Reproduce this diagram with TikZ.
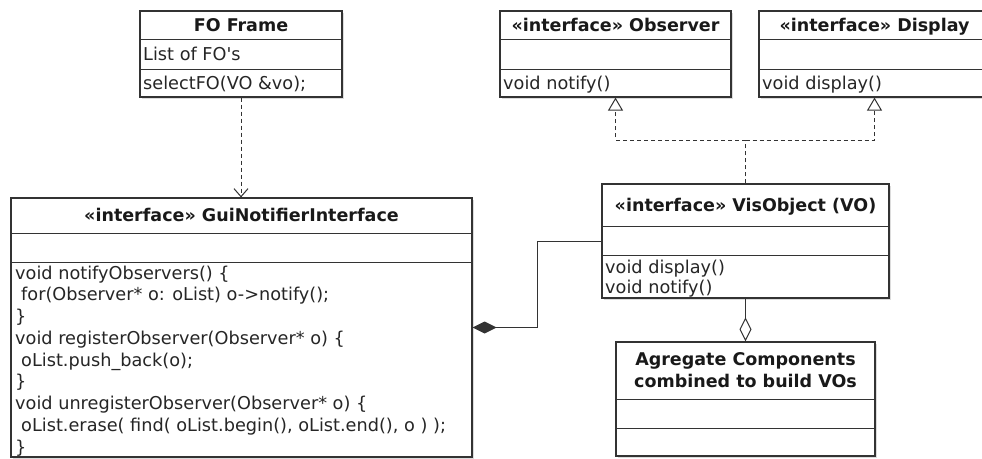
\documentclass[tikz,border=0pt]{standalone}
\usepackage{fontspec}
\setmainfont{DejaVu Sans}
\usetikzlibrary{arrows.meta,shadows}

\begin{document}
\begin{tikzpicture}[x=1pt, y=-1pt,
    umlbox/.style={draw=black!80, line width=1.2pt, fill=white, inner sep=0pt,
      drop shadow={shadow xshift=2pt, shadow yshift=-2pt, opacity=0.3, fill=black!45}},
    boxtitle/.style={inner sep=0pt, font=\fontsize{17.5}{22}\selectfont\bfseries, text=black!90, align=center},
    onetitle/.style={boxtitle, text height=13pt, text depth=0pt},
    member/.style={anchor=west, inner sep=0pt, text height=12pt, text depth=0pt,
      font=\fontsize{17.7}{20}\selectfont, text=black!85},
    sep/.style={draw=black!80, line width=1pt},
    realize/.style={draw=black!80, line width=1pt, dash pattern=on 4pt off 3pt,
      -{Triangle[open, length=13pt, width=15pt]}},
    depend/.style={draw=black!80, line width=1pt, dash pattern=on 4pt off 3pt,
      -{Straight Barb[length=8pt, width=14pt]}},
    compose/.style={draw=black!80, line width=1pt, -{Diamond[length=24pt, width=12pt]}},
    aggregate/.style={draw=black!80, line width=1pt, -{Diamond[open, length=24pt, width=12pt]}}]
  \clip (0,0) rectangle (982,458);
  \fill[white] (0,0) rectangle (982,458);

  % FO Frame
  \node[umlbox, minimum width=202pt, minimum height=86pt] (foframe) at (241,54) {};
  \node[onetitle] (fotitle) at (241,25) {FO Frame};
  \draw[sep] (140,39) -- (342,39);
  \draw[sep] (140,69) -- (342,69);
  \node[member] (folist) at (143,54) {List of FO\textquotesingle s};
  \node[member] (foselect) at (143,83) {selectFO(VO \&vo);};

  % Observer
  \node[umlbox, minimum width=231pt, minimum height=86pt] (observer) at (615.5,54) {};
  \node[onetitle] (obstitle) at (615.5,25) {«interface» Observer};
  \draw[sep] (500,39) -- (731,39);
  \draw[sep] (500,69) -- (731,69);
  \node[member] (obsnotify) at (503,83) {void notify()};

  % Display
  \node[umlbox, minimum width=231pt, minimum height=86pt] (display) at (874.5,54) {};
  \node[onetitle] (distitle) at (874.5,25) {«interface» Display};
  \draw[sep] (759,39) -- (990,39);
  \draw[sep] (759,69) -- (990,69);
  \node[member] (disdisplay) at (762,83) {void display()};

  % GuiNotifierInterface
  \node[umlbox, minimum width=461pt, minimum height=259pt] (gui) at (241.5,327.5) {};
  \node[onetitle] (guititle) at (241.5,215) {«interface» GuiNotifierInterface};
  \draw[sep] (11,233) -- (472,233);
  \draw[sep] (11,262) -- (472,262);
  \foreach \code/\dx [count=\i] in {{void notifyObservers() \{}/15,
      {for(Observer* o: oList) o->notify();}/21,
      {\}}/15,
      {void registerObserver(Observer* o) \{}/15,
      {oList.push\_back(o);}/21,
      {\}}/15,
      {void unregisterObserver(Observer* o) \{}/15,
      {oList.erase( find( oList.begin(), oList.end(), o ) );}/21,
      {\}}/15}
    \node[member] (guicode\i) at (\dx, 273+21.75*\i-21.75) {\code};

  % VisObject
  \node[umlbox, minimum width=287pt, minimum height=114pt] (vo) at (745.5,241) {};
  \node[onetitle] (votitle) at (745.5,205) {«interface» VisObject (VO)};
  \draw[sep] (602,226) -- (889,226);
  \draw[sep] (602,255) -- (889,255);
  \node[member] (vodisplay) at (605,267) {void display()};
  \node[member] (vonotify) at (605,287) {void notify()};

  % Agregate Components
  \node[umlbox, minimum width=259pt, minimum height=114pt] (agg) at (745.5,399) {};
  \node[boxtitle] (aggtitle) at (745.5,370) {Agregate Components\\combined to build VOs};
  \draw[sep] (616,399) -- (875,399);
  \draw[sep] (616,428) -- (875,428);

  % connectors
  \coordinate (split) at (745.5,140);
  \coordinate (bend) at (537,327.5);
  \draw[depend] (foframe.south) -- (foframe.south |- gui.north);
  \draw[sep, dash pattern=on 4pt off 3pt] (vo.north) -- (split);
  \draw[realize] (split) -| (observer.south);
  \draw[realize] (split) -| (display.south);
  \draw[compose] (vo.west) -| (bend) -- (gui.east);
  \draw[aggregate] (vo.south) -- (agg.north);
\end{tikzpicture}
\end{document}
